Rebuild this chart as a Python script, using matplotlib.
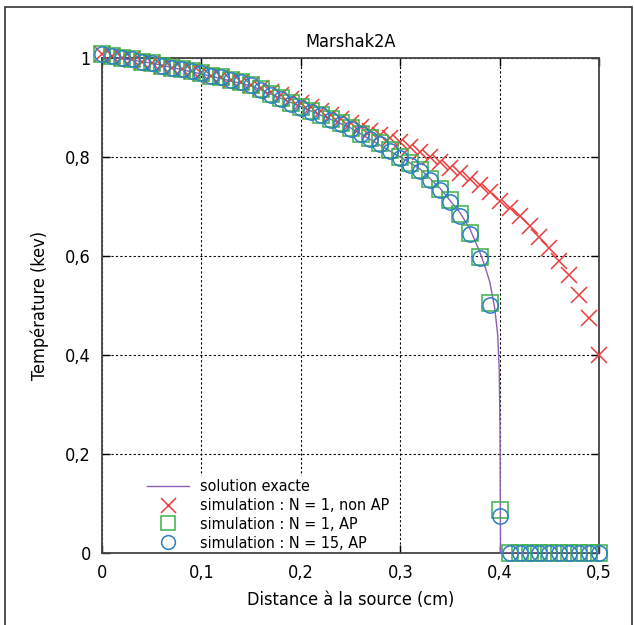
import numpy as np
import matplotlib
matplotlib.use("Agg")
import matplotlib.pyplot as plt
from matplotlib.patches import Rectangle
from matplotlib.ticker import FuncFormatter

# distances (cm), one point every 0.01
x_sim = np.round(np.arange(0, 51) * 0.01, 2)

# simulation N = 1, non AP (red crosses)
T_nonap = [1.008, 1.005, 1.001, 0.998, 0.993, 0.990, 0.985, 0.981, 0.978, 0.973,
           0.969, 0.964, 0.961, 0.956, 0.951, 0.946, 0.940, 0.932, 0.925, 0.917,
           0.909, 0.901, 0.894, 0.886, 0.877, 0.869, 0.861, 0.853, 0.845, 0.838,
           0.830, 0.820, 0.810, 0.801, 0.790, 0.778, 0.768, 0.756, 0.743, 0.729,
           0.712, 0.697, 0.682, 0.661, 0.639, 0.617, 0.590, 0.561, 0.522, 0.474,
           0.400]

# simulation N = 1, AP (green squares)
T_ap1 = [1.008, 1.005, 1.001, 0.998, 0.993, 0.990, 0.985, 0.981, 0.978, 0.973,
         0.969, 0.964, 0.961, 0.956, 0.951, 0.946, 0.937, 0.927, 0.919, 0.909,
         0.901, 0.893, 0.886, 0.877, 0.868, 0.858, 0.847, 0.838, 0.828, 0.815,
         0.800, 0.789, 0.775, 0.756, 0.735, 0.713, 0.685, 0.647, 0.599, 0.506,
         0.088, 0.0, 0.0, 0.0, 0.0, 0.0, 0.0, 0.0, 0.0, 0.0, 0.0]

# simulation N = 15, AP (blue circles)
T_ap15 = [1.008, 1.005, 1.001, 0.998, 0.993, 0.990, 0.985, 0.981, 0.978, 0.973,
          0.969, 0.964, 0.961, 0.956, 0.951, 0.946, 0.936, 0.926, 0.918, 0.908,
          0.900, 0.892, 0.885, 0.876, 0.867, 0.857, 0.846, 0.837, 0.827, 0.813,
          0.798, 0.785, 0.772, 0.753, 0.733, 0.710, 0.682, 0.645, 0.596, 0.502,
          0.075, 0.0, 0.0, 0.0, 0.0, 0.0, 0.0, 0.0, 0.0, 0.0, 0.0]

# solution exacte
x_ex = [0.0, 0.05, 0.1, 0.15, 0.2, 0.25, 0.3, 0.32, 0.34, 0.36, 0.37, 0.38,
        0.385, 0.39, 0.395, 0.398, 0.3995, 0.4003, 0.4006, 0.4008, 0.45, 0.5]
T_ex = [1.005, 0.99, 0.968, 0.944, 0.902, 0.859, 0.800, 0.776, 0.737, 0.688,
        0.655, 0.608, 0.580, 0.548, 0.495, 0.44, 0.37, 0.25, 0.10, 0.0, 0.0, 0.0]

plt.rcParams["font.family"] = ["DejaVu Sans"]
plt.rcParams["font.stretch"] = "condensed"
plt.rcParams["font.size"] = 12

fig = plt.figure(figsize=(6.34, 6.25), dpi=100)
ax = fig.add_axes([0.161, 0.115, 0.784, 0.792])

ax.plot(x_ex, T_ex, "-", color="#8b5fb5", lw=1.0, label="solution exacte", zorder=3)
ax.plot(x_sim, T_nonap, "x", color="#ec3b3b", ms=12, mew=1.1,
        label="simulation : N = 1, non AP", clip_on=False, zorder=4)
ax.plot(x_sim, T_ap1, "s", color="#3cb04a", mfc="none", ms=11, mew=1.1,
        label="simulation : N = 1, AP", clip_on=False, zorder=4)
ax.plot(x_sim, T_ap15, "o", color="#2b7fc4", mfc="none", ms=11, mew=1.1,
        label="simulation : N = 15, AP", clip_on=False, zorder=5)

ax.set_xlim(0, 0.5)
ax.set_ylim(0, 1)
ax.set_xticks([0, 0.1, 0.2, 0.3, 0.4, 0.5])
ax.set_yticks([0, 0.2, 0.4, 0.6, 0.8, 1.0])
fmt = FuncFormatter(lambda v, p: ("%g" % round(v, 2)).replace(".", ","))
ax.xaxis.set_major_formatter(fmt)
ax.yaxis.set_major_formatter(fmt)
ax.tick_params(direction="in", top=True, right=True, length=6, width=1,
               labelsize=13, pad=8)
ax.grid(True, color="black", ls=(0, (2, 2)), lw=0.8)
for s in ax.spines.values():
    s.set_linewidth(1.3)
    s.set_color("#444444")

ax.set_title("Marshak2A", fontsize=13, pad=8)
ax.set_xlabel("Distance à la source (cm)", fontsize=13, labelpad=6)
ax.set_ylabel("Température (kev)", fontsize=13, labelpad=12)

leg = ax.legend(loc="lower left", bbox_to_anchor=(0.075, -0.012), frameon=True,
                fontsize=11.5, handlelength=2.6, handletextpad=0.7,
                labelspacing=0.25, borderaxespad=0.3, borderpad=0.2,
                facecolor="white", edgecolor="none", framealpha=1.0,
                fancybox=False, markerscale=0.9)
leg.set_zorder(2.2)

fig.patches.append(Rectangle((5 / 634, -0.05), 627 / 634, 1.05 - 7 / 625,
                             transform=fig.transFigure, fill=False,
                             edgecolor="#333333", lw=1.2))

fig.savefig("out.png", dpi=100)
